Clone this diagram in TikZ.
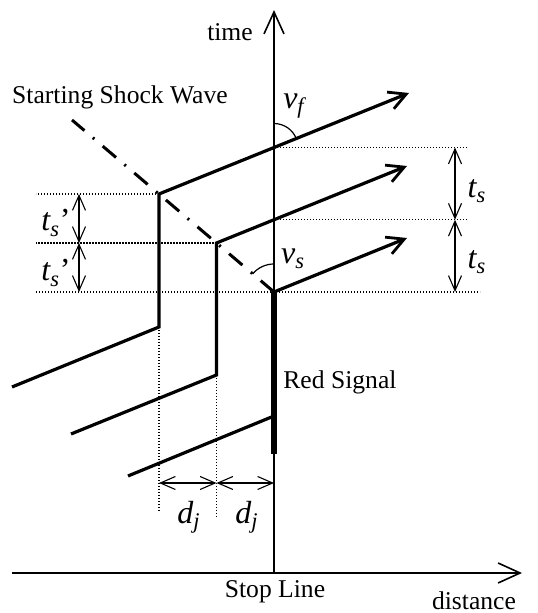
\documentclass[tikz,border=0pt]{standalone}
\usepackage{amsmath}
\usepackage{fontspec}
\setmainfont{Liberation Serif}
\usetikzlibrary{arrows.meta}
\tikzset{
  axis/.style={line width=0.9pt, -{Straight Barb[length=11pt,width=10pt,line width=0.8pt]}},
  traj/.style={line width=1.6pt, -{Straight Barb[length=8.5pt,width=9pt,line width=1.4pt]}},
  leg/.style={line width=1.6pt},
  redbar/.style={line width=3.2pt},
  shock/.style={line width=1.5pt, dash pattern=on 8.75pt off 5.5pt on 1pt off 5.5pt},
  guide/.style={line width=0.6pt, dash pattern=on 0.6pt off 0.9pt},
  dim/.style={line width=0.55pt, {Straight Barb[length=7.5pt,width=6.5pt]}-{Straight Barb[length=7.5pt,width=6.5pt]}},
  angle/.style={line width=0.6pt},
  lbl/.style={font=\fontsize{12.8}{15}\selectfont, inner sep=0pt},
  sym/.style={font=\fontsize{16}{19}\selectfont, inner sep=0pt}
}

\begin{document}
\begin{tikzpicture}[x=0.5pt,y=0.5pt]
\useasboundingbox (0,0) rectangle (537,613);
% axes
\coordinate (o) at (274,40);
\coordinate (tt) at (274,603);
\coordinate (xl) at (12,40);
\coordinate (xr) at (522,40);
\draw[axis] (o) -- (tt);
\draw[axis] (xl) -- (xr);
% vehicles: tail, queue end, start corner, head
\coordinate (s1) at (12,226);
\coordinate (s2) at (71,179);
\coordinate (s3) at (128,137);
\coordinate (q1) at (159,286);
\coordinate (q2) at (216.5,238);
\coordinate (q3) at (274,197);
\coordinate (c1) at (159,419);
\coordinate (c2) at (216.5,370);
\coordinate (c3) at (274,321);
\coordinate (e1) at (409,520);
\coordinate (e2) at (407,447);
\coordinate (e3) at (407,375);
\coordinate (rb) at (274,159);
\coordinate (sw) at (72,493);
\draw[traj] (s1) -- (q1) -- (c1) -- (e1);
\draw[traj] (s2) -- (q2) -- (c2) -- (e2);
\draw[leg] (s3) -- (q3);
\draw[redbar] (rb) -- (c3);
\draw[traj] (c3) -- (e3);
\draw[shock] (c3) -- (sw);
% guide lines
\coordinate (h1) at (intersection of c1--e1 and o--tt);
\coordinate (h2) at (intersection of c2--e2 and o--tt);
\coordinate (gl) at (36,0);
\coordinate (gr) at (467,0);
\coordinate (gr2) at (480,0);
\coordinate (b1) at (159,102);
\coordinate (b2) at (216.5,96);
\draw[guide] (c1) -- (c1 -| gl);
\draw[guide] (c2) -- (c2 -| gl);
\draw[guide] (c3 -| gl) -- (c3 -| gr2);
\draw[guide] (h1) -- (h1 -| gr);
\draw[guide] (h2) -- (h2 -| gr);
\draw[guide] (q1) -- (b1);
\draw[guide] (q2) -- (b2);
% dimensions
\coordinate (dl) at (79,0);
\coordinate (dr) at (455,0);
\coordinate (db) at (0,130);
\draw[dim] (c1 -| dl) -- (c2 -| dl);
\draw[dim] (c2 -| dl) -- (c3 -| dl);
\draw[dim] (h1 -| dr) -- (h2 -| dr);
\draw[dim] (h2 -| dr) -- (c3 -| dr);
\draw[dim] (q1 |- db) -- (q2 |- db);
\draw[dim] (q2 |- db) -- (o |- db);
% angles
\draw[angle] (h1) ++(0,24) arc[start angle=90, end angle=22, radius=24];
\draw[angle] (c3) ++(0,28) arc[start angle=90, end angle=140, radius=28];
% labels
\node[lbl] (time) at (230,581) {time};
\node[lbl] (ssw) at (120,516) {Starting Shock Wave};
\node[lbl, anchor=west] (red) at (283,231) {Red Signal};
\node[lbl] (stop) at (275,21) {Stop Line};
\node[lbl] (dist) at (474,12) {distance};
\node[sym] (vf) at (294,507) {$\textit{v}_{\textit{f}}$};
\node[sym] (vs) at (293,354) {$\textit{v}_{\textit{s}}$};
\node[sym] (ts1) at (477,422) {$\textit{t}_{\textit{s}}$};
\node[sym] (ts2) at (477,351) {$\textit{t}_{\textit{s}}$};
\node[sym] (tp1) at (56,390) {$\textit{t}_{\textit{s}}$’};
\node[sym] (tp2) at (56,340) {$\textit{t}_{\textit{s}}$’};
\node[sym] (dj1) at (189,96) {$\textit{d}_{\textit{j}}$};
\node[sym] (dj2) at (247,96) {$\textit{d}_{\textit{j}}$};
\end{tikzpicture}
\end{document}
